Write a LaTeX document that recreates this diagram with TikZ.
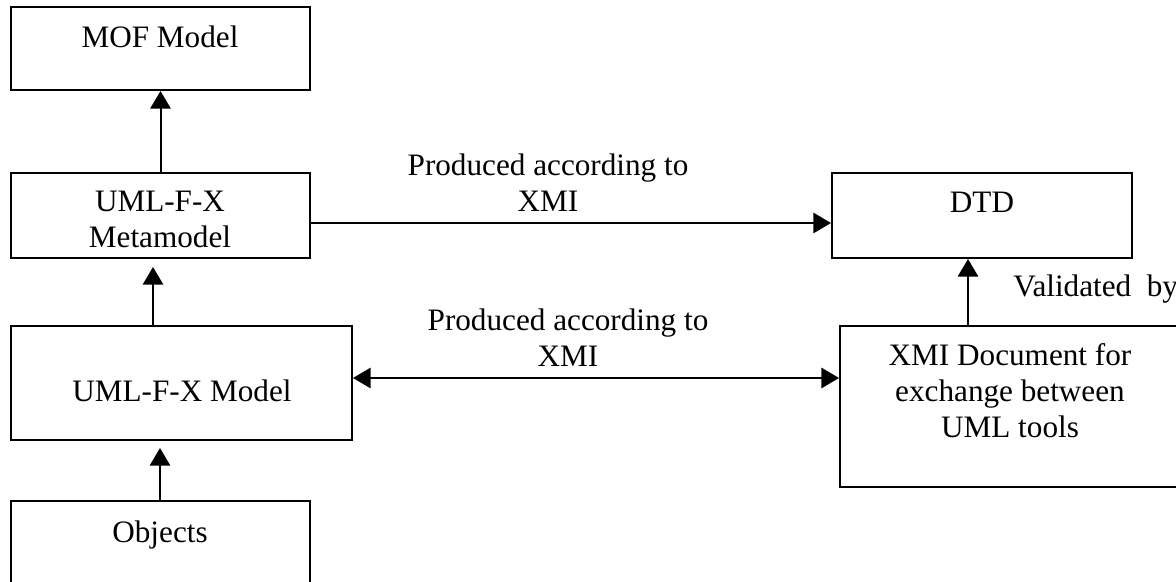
\documentclass[tikz,border=0pt]{standalone}
\usepackage{fontspec}
\setmainfont{Liberation Serif}
\usetikzlibrary{arrows.meta, fit}

\begin{document}
\begin{tikzpicture}[x=0.375pt, y=-0.375pt, >={Triangle[width=7.6pt,length=6.6pt]},
  box/.style={
    % The shape:
    rectangle,
    % The border
    draw=black, line width=0.75pt,
    % The size comes from fit
    inner sep=0pt},
  txt/.style={anchor=base, align=center, font=\fontsize{11.7}{13.5}\selectfont},
  arr/.style={->, line width=0.75pt}]

    \useasboundingbox (0,0) rectangle (1176,582);
    \clip (0,0) rectangle (1176,582);

    % the boxes
    \node [box, fit={(11,7) (310,90)}] (mof) {};
    \node [box, fit={(11,173) (310,258)}] (meta) {};
    \node [box, fit={(11,326) (352,440)}] (model) {};
    \node [box, fit={(11,501) (310,600)}] (objects) {};
    \node [box, fit={(832,173) (1132,258)}] (dtd) {};
    \node [box, fit={(840,326) (1185,487)}] (xmi) {};

    % the texts in the boxes (base = last line)
    \node [txt] (mofT) at (160,48) {MOF Model};
    \node [txt] (metaT) at (160,248) {UML-F-X\\Metamodel};
    \node [txt] (modelT) at (182,402) {UML-F-X Model};
    \node [txt] (objectsT) at (160,543) {Objects};
    \node [txt] (dtdT) at (982,213) {DTD};
    \node [txt] (xmiT) at (1010,438) {XMI Document for\\exchange between\\UML tools};

    % the labels of the arrows
    \node [txt] (prodA) at (548,212) {Produced according to\\XMI};
    \node [txt] (prodB) at (568,367) {Produced according to\\XMI};
    \node [txt, anchor=base west] (valid) at (1004,297) {Validated~~by};

    % the arrows
    \coordinate (upA) at (153,267);
    \coordinate (upB) at (160,448);
    \coordinate (horA) at (310,223);
    \coordinate (horB) at (352,378);
    \coordinate (upC) at (968,258);
    \draw [arr] (meta) -- (mof);
    \draw [arr] (model.north -| upA) -- (upA);
    \draw [arr] (objects.north -| upB) -- (upB);
    \draw [arr] (meta.east |- horA) -- (dtd.west |- horA);
    \draw [arr, <->] (model.east |- horB) -- (xmi.west |- horB);
    \draw [arr] (xmi.north -| upC) -- (dtd.south -| upC);

\end{tikzpicture}
\end{document}
